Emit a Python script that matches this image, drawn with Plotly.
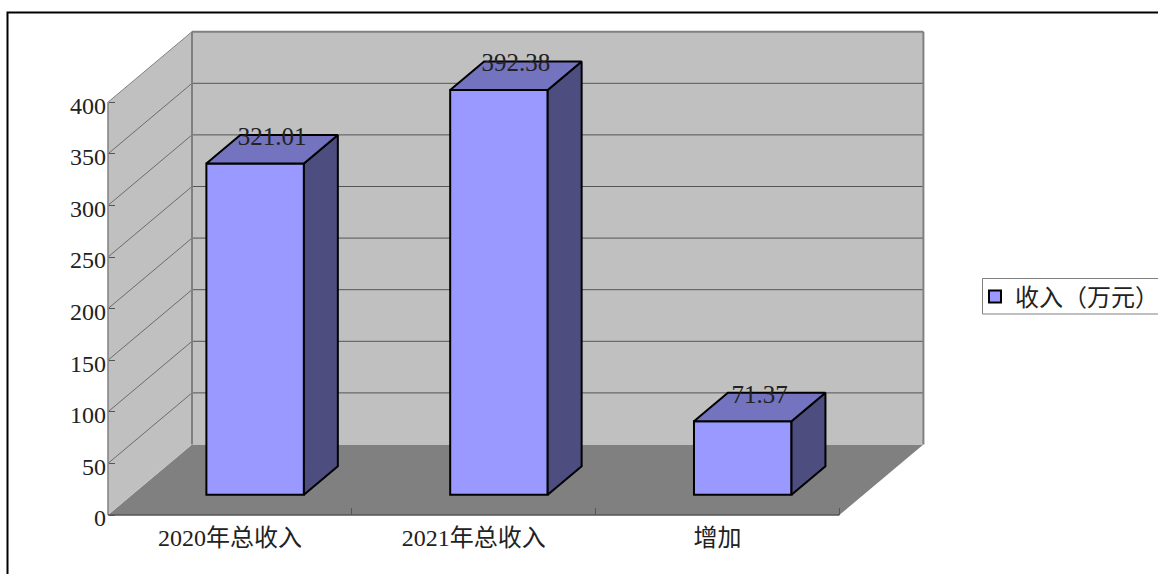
import plotly.graph_objects as go

# ---- data ----
categories = ["2020年总收入", "2021年总收入", "增加"]
values = [321.01, 392.38, 71.37]
value_labels = ["321.01", "392.38", "71.37"]
y_ticks = [0, 50, 100, 150, 200, 250, 300, 350, 400]
series_name = "收入（万元）"

# ---- page / projection settings ----
W, H = 1158, 574
PX_X0, PX_Y0 = 108.0, 515.0      # pixel of category 0, value 0 on the front plane
PX_PER_CAT, PX_PER_VAL = 243.8, 1.032
DEPTH_X = 84 / PX_PER_CAT        # oblique depth offset, data units
DEPTH_Y = 70.5 / PX_PER_VAL
BAR_D0, BAR_D1 = 0.286, 0.69     # bar depth span
BAR_W = 0.40
BAR_C = 0.505                    # bar centre inside its category
LABEL_DROP = 2                   # value label sits slightly lower, in value units
N = len(categories)
TOP_VAL = 400

FONT = "'Liberation Serif', 'Noto Sans CJK SC', serif"
WALL, FLOOR, EDGE, GRID = "#C0C0C0", "#808080", "#808080", "#555555"
FRONT, SIDE, TOP = "#9999FF", "#4D4D80", "#7373BF"


def P(x, y, d):
    return x + d * DEPTH_X, y + d * DEPTH_Y


def poly(points):
    xs = [p[0] for p in points]
    ys = [p[1] for p in points]
    return "M" + "L".join(f"{a},{b}" for a, b in zip(xs, ys)) + "Z"


shapes = []


def area(points, fill, line=None, width=0):
    shapes.append(dict(type="path", path=poly(points), xref="x", yref="y", layer="below",
                       fillcolor=fill, line=dict(color=line or fill, width=width)))


def seg(a, b, color, width):
    shapes.append(dict(type="line", xref="x", yref="y", layer="below",
                       x0=a[0], y0=a[1], x1=b[0], y1=b[1], line=dict(color=color, width=width)))


# walls and floor
area([P(0, 0, 0), P(0, 0, 1), P(N, 0, 1), P(N, 0, 0)], FLOOR)
area([P(0, 0, 0), P(0, 0, 1), P(0, TOP_VAL, 1), P(0, TOP_VAL, 0)], WALL)
area([P(0, 0, 1), P(N, 0, 1), P(N, TOP_VAL, 1), P(0, TOP_VAL, 1)], WALL)

# gridlines
for t in y_ticks[1:-1]:
    seg(P(0, t, 0), P(0, t, 1), GRID, 0.8)
    seg(P(0, t, 1), P(N, t, 1), GRID, 1)

# wall edges
seg(P(0, 0, 1), P(0, TOP_VAL, 1), EDGE, 2)
seg(P(0, TOP_VAL, 1), P(N, TOP_VAL, 1), EDGE, 2)
seg(P(N, 0, 1), P(N, TOP_VAL, 1), EDGE, 2)
seg(P(0, TOP_VAL, 0), P(0, TOP_VAL, 1), EDGE, 1)
seg(P(0, 0, 0), P(0, TOP_VAL, 0), EDGE, 1.5)
seg(P(0, 0, 0), P(N, 0, 0), "#555555", 1.5)

# outer frame and legend box (pixel -> paper)
shapes.append(dict(type="path", xref="paper", yref="paper", layer="above",
                   path=f"M{7.5/W},0L{7.5/W},{1-12.5/H}L1,{1-12.5/H}",
                   line=dict(color="black", width=2)))
shapes.append(dict(type="rect", xref="paper", yref="paper", layer="below",
                   x0=982.5 / W, x1=1.01, y0=1 - 314 / H, y1=1 - 278.5 / H,
                   fillcolor="white", line=dict(color="#808080", width=1)))

fig = go.Figure()

centers = [i + BAR_C + BAR_D0 * DEPTH_X for i in range(N)]
bar_base = BAR_D0 * DEPTH_Y
fig.add_trace(go.Bar(x=centers, y=values, base=bar_base, width=BAR_W, name=series_name,
                     marker=dict(color=FRONT, line=dict(color="black", width=2)),
                     hoverinfo="skip", showlegend=True))

for i, v in enumerate(values):
    x0 = i + BAR_C - BAR_W / 2
    x1 = x0 + BAR_W
    side = [P(x1, 0, BAR_D0), P(x1, 0, BAR_D1), P(x1, v, BAR_D1), P(x1, v, BAR_D0)]
    top = [P(x0, v, BAR_D0), P(x1, v, BAR_D0), P(x1, v, BAR_D1), P(x0, v, BAR_D1)]
    for face, col in ((side, SIDE), (top, TOP)):
        fig.add_trace(go.Scatter(x=[p[0] for p in face] + [face[0][0]],
                                 y=[p[1] for p in face] + [face[0][1]],
                                 mode="lines", fill="toself", fillcolor=col,
                                 line=dict(color="black", width=2),
                                 showlegend=False, hoverinfo="skip"))

lab = [P(i + BAR_C, v - LABEL_DROP, (BAR_D0 + BAR_D1) / 2) for i, v in enumerate(values)]
fig.add_trace(go.Scatter(x=[p[0] for p in lab], y=[p[1] for p in lab], text=value_labels,
                         mode="text", textposition="top center",
                         textfont=dict(family=FONT, size=25, color="#222222"),
                         showlegend=False, hoverinfo="skip", cliponaxis=False))

# plot area in pixels, slightly larger than the chart box so edge lines are not clipped
L, R, T, B = 100.0, 935.0, 20.0, 525.0
fig.update_layout(
    width=W, height=H, autosize=False,
    margin=dict(l=0, r=0, t=0, b=0, autoexpand=False),
    paper_bgcolor="white", plot_bgcolor="rgba(0,0,0,0)",
    font=dict(family=FONT, size=24, color="#222222"),
    shapes=shapes, barmode="overlay", hovermode=False,
    legend=dict(x=975 / W, xanchor="left", y=1 - 297 / H, yanchor="middle",
                bgcolor="rgba(0,0,0,0)", borderwidth=0,
                font=dict(family=FONT, size=24, color="#222222"), itemclick=False),
    xaxis=dict(domain=[L / W, R / W],
               range=[(L - PX_X0) / PX_PER_CAT, (R - PX_X0) / PX_PER_CAT],
               anchor="free", position=1 - PX_Y0 / H,
               tickmode="array", tickvals=[i + 0.5 for i in range(N)], ticktext=categories,
               ticks="", showgrid=False, zeroline=False, showline=False, ticklabelstandoff=6,
               minor=dict(tickmode="array", tickvals=list(range(1, N + 1)), ticks="inside",
                          ticklen=7, tickwidth=1, tickcolor="#555555", showgrid=False)),
    yaxis=dict(domain=[1 - B / H, 1 - T / H],
               range=[(PX_Y0 - B) / PX_PER_VAL, (PX_Y0 - T) / PX_PER_VAL],
               anchor="free", position=PX_X0 / W,
               tickmode="array", tickvals=y_ticks, ticks="inside", ticklen=6, tickwidth=1,
               tickcolor="#555555", showgrid=False, zeroline=False, showline=False,
               ticklabelshift=3, ticklabelstandoff=2),
)

fig.write_html("out.html", config={"displayModeBar": False},
               post_script="document.body.style.margin='0';document.body.style.overflow='hidden';")
